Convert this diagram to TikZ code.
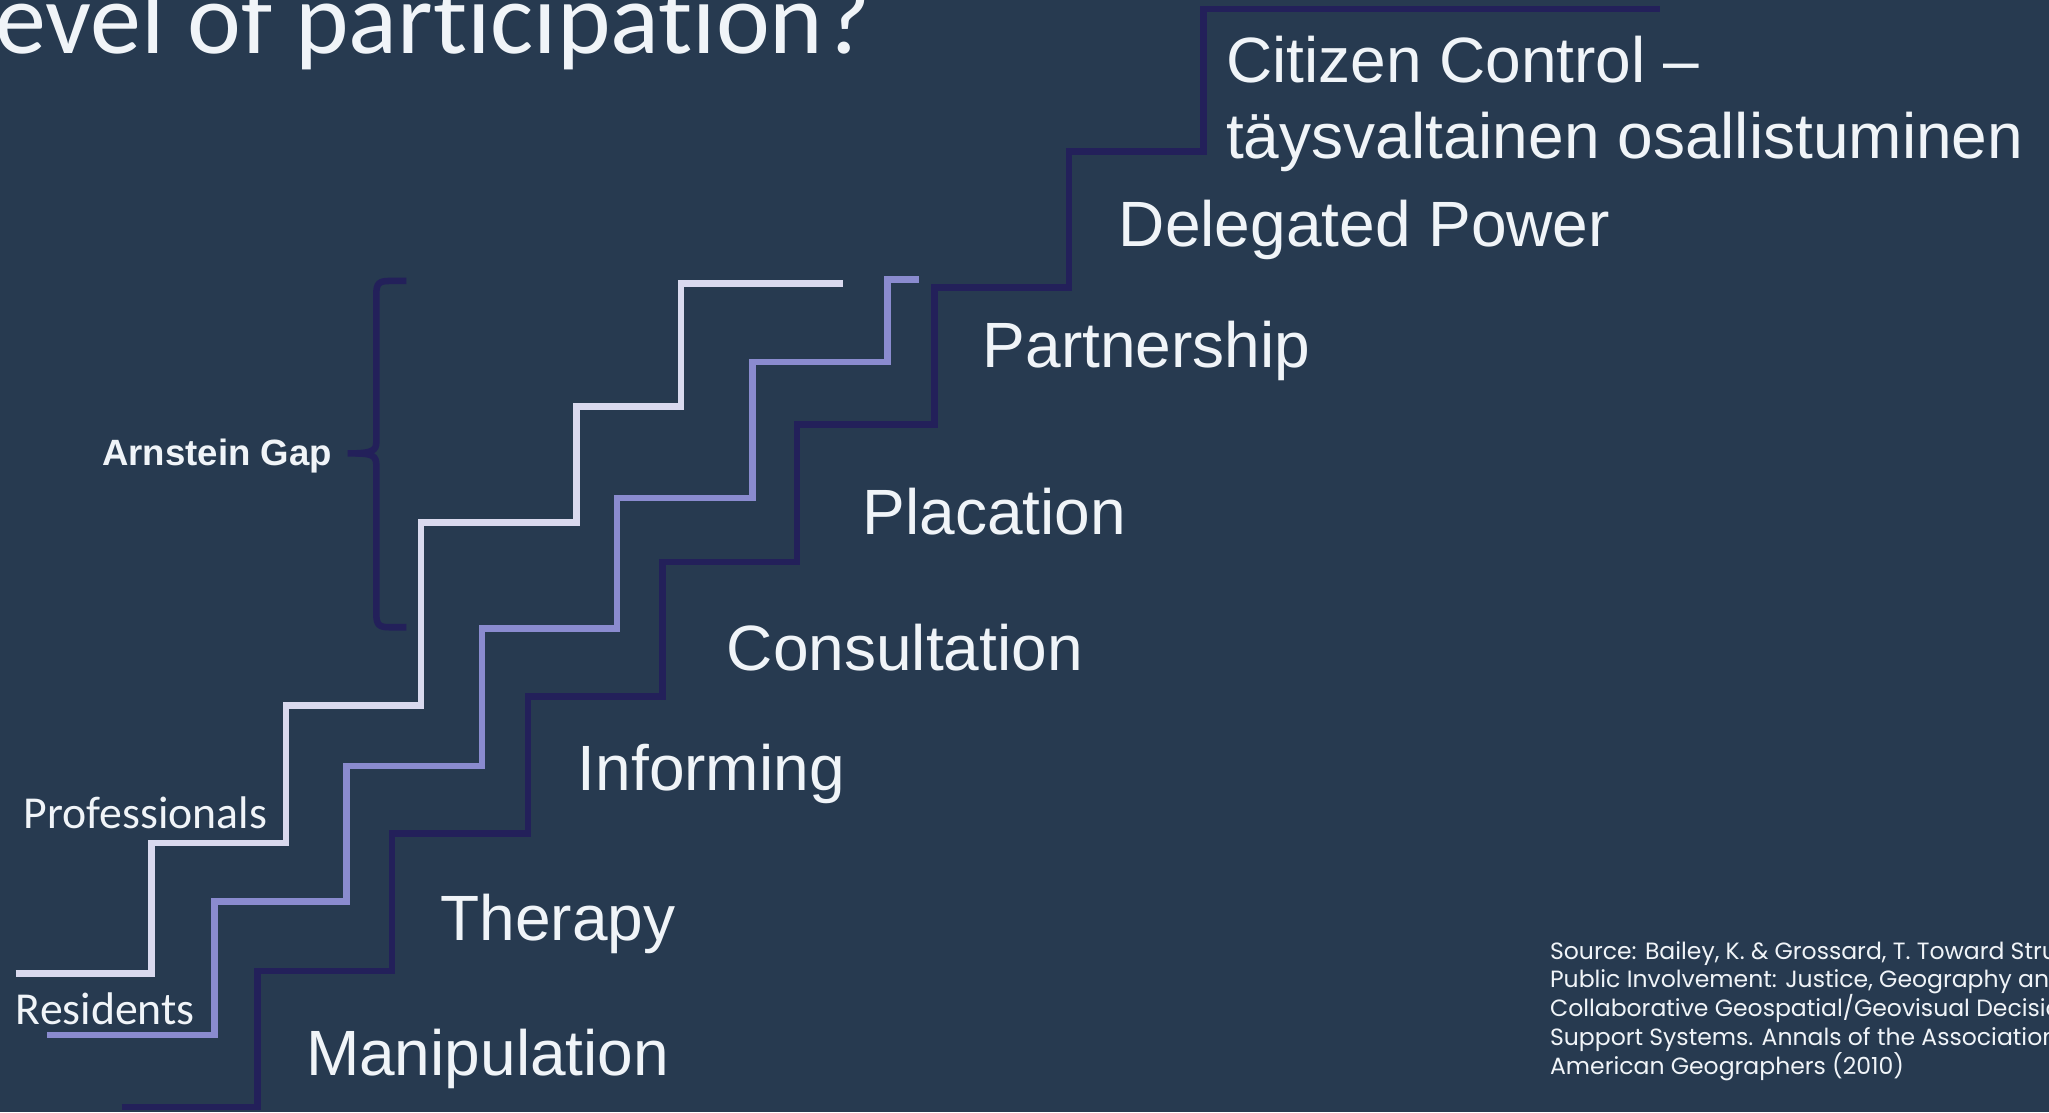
\documentclass[tikz,border=0pt]{standalone}
\usepackage{fontspec}
\setmainfont{Liberation Sans}
\newfontfamily\calfont{Carlito}[Ligatures=NoCommon]
\newfontfamily\srcfont{Poppins}
\definecolor{bg}{RGB}{39,58,80}
\definecolor{lightl}{RGB}{217,217,238}
\definecolor{midl}{RGB}{138,139,207}
\definecolor{darkl}{RGB}{35,32,90}
\definecolor{txt}{RGB}{240,244,248}
\tikzset{
  stair/.style={line width=5pt, miter limit=10},
  rung/.style={text=txt, anchor=base west, inner sep=0pt, font=\fontsize{49}{58}\selectfont},
  side/.style={text=txt, anchor=base west, inner sep=0pt, font=\calfont\fontsize{35}{42}\selectfont},
  srcline/.style={text=txt, anchor=base west, inner sep=0pt, font=\srcfont\fontsize{18}{22}\selectfont},
}
\begin{document}
\begin{tikzpicture}[x=1pt, y=-1pt]
\fill[bg] (0,0) rectangle (1568,851);
\useasboundingbox (0,0) rectangle (1568,851);
\begin{scope}
\clip (0,0) rectangle (1568,851);
% title
\node[text=txt, anchor=base west, inner sep=0pt, font=\calfont\fontsize{78}{92}\selectfont] (title) at (-4,41) {evel of participation?};
% stairs
\draw[stair, darkl] (93,847) -- (197,847) -- (197,743) -- (300,743) -- (300,638) -- (404,638) -- (404,533) -- (507,533) -- (507,430) -- (610,430) -- (610,325) -- (715,325) -- (715,220) -- (818,220) -- (818,116) -- (921,116) -- (921,7) -- (1270,7);
\draw[stair, midl] (36,792) -- (164,792) -- (164,690) -- (265,690) -- (265,586) -- (369,586) -- (369,481) -- (472,481) -- (472,381) -- (576,381) -- (576,277) -- (679,277) -- (679,214) -- (703,214);
\draw[stair, lightl] (12,745) -- (116,745) -- (116,645) -- (219,645) -- (219,540) -- (322,540) -- (322,400) -- (441,400) -- (441,311) -- (521,311) -- (521,217) -- (645,217);
% brace
\draw[stair, darkl] (311,215) -- (298,215) .. controls (290,215) and (288,217) .. (288,225) -- (288,338) .. controls (288,345) and (285,347) .. (266,347);
\draw[stair, darkl] (311,480) -- (298,480) .. controls (290,480) and (288,478) .. (288,470) -- (288,356) .. controls (288,349) and (285,347) .. (272,347);
% labels
\node[rung] (cc1) at (938,63) {Citizen Control –};
\node[rung] (cc2) at (938,121) {täysvaltainen osallistuminen};
\node[rung] (dp) at (856,189) {Delegated Power};
\node[rung] (pa) at (752,281) {Partnership};
\node[rung] (pl) at (660,409) {Placation};
\node[rung] (co) at (556,513) {Consultation};
\node[rung] (in) at (442,605) {Informing};
\node[rung] (th) at (337,720) {Therapy};
\node[rung] (ma) at (234,823) {Manipulation};
\node[side] (prof) at (18,634) {Professionals};
\node[side] (res) at (12,784) {Residents};
\node[text=txt, anchor=base west, inner sep=0pt, font=\bfseries\fontsize{28}{34}\selectfont] (gap) at (78,356) {Arnstein Gap};
% source
\node[srcline] (s1) at (1186,734) {Source: Bailey, K. \& Grossard, T. Toward Structuring};
\node[srcline] (s2) at (1186,756) {Public Involvement: Justice, Geography and};
\node[srcline] (s3) at (1186,778) {Collaborative Geospatial/Geovisual Decision};
\node[srcline] (s4) at (1186,800) {Support Systems. Annals of the Association of};
\node[srcline] (s5) at (1186,822) {American Geographers (2010)};
\end{scope}
\end{tikzpicture}
\end{document}
